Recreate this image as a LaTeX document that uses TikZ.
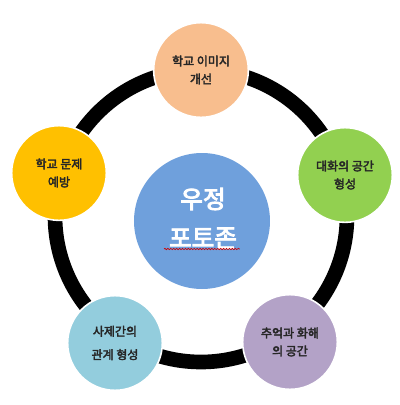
\documentclass[tikz,border=0pt]{standalone}
\usepackage{fontspec}
\setmainfont{Noto Sans CJK KR}
\newfontfamily\krbold[FakeBold=3]{Noto Sans CJK KR}
\newfontfamily\krhub[FakeBold=3.5]{Noto Sans CJK KR}
\usetikzlibrary{decorations.pathmorphing}
\definecolor{cpeach}{HTML}{F8BE8E}
\definecolor{cgold}{HTML}{FFC000}
\definecolor{cgreen}{HTML}{92D050}
\definecolor{cblue}{HTML}{93CDDD}
\definecolor{clav}{HTML}{B3A2C7}
\definecolor{ccenter}{HTML}{6FA0DC}
\definecolor{ctext}{HTML}{262626}
\tikzset{
  petal/.style={circle, draw=white, line width=1.2pt, minimum size=71pt, inner sep=0pt,
    align=center, text=ctext, font=\krbold\fontsize{9}{13.5}\selectfont},
  hub/.style={circle, fill=ccenter, minimum size=102pt, inner sep=0pt},
  hubtext/.style={text=white, inner sep=0pt, font=\krhub\fontsize{18.5}{29}\selectfont},
  ring/.style={line width=11pt, draw=black}
}
\begin{document}
\begin{tikzpicture}[x=0.75pt, y=-0.75pt]
\useasboundingbox (0,0) rectangle (400,405);
\coordinate (ringc) at (201,216);
\draw[ring] (ringc) circle[radius=109.5pt];
\node[hub] (hub) at (202,221) {};
\node[hubtext] (t1) at (203,199) {우정};
\node[hubtext] (t2) at (203,238) {포토존};
\coordinate (w1) at (164,249);
\coordinate (w2) at (240,249);
\draw[red!80!black, line width=0.5pt, decorate, decoration={snake, segment length=2.2pt, amplitude=0.5pt}] (w1) -- (w2);
\node[petal, fill=cpeach] (top) at (201,70) {학교 이미지\\개선};
\node[petal, fill=cgold] (left) at (59,173) {학교 문제\\예방};
\node[petal, fill=cgreen] (right) at (345,175) {대화의 공간\\형성};
\node[petal, fill=cblue] (bl) at (115,343) {사제간의\\[4pt]관계 형성};
\node[petal, fill=clav] (br) at (290,342) {추억과 화해\\의 공간};
\end{tikzpicture}
\end{document}
